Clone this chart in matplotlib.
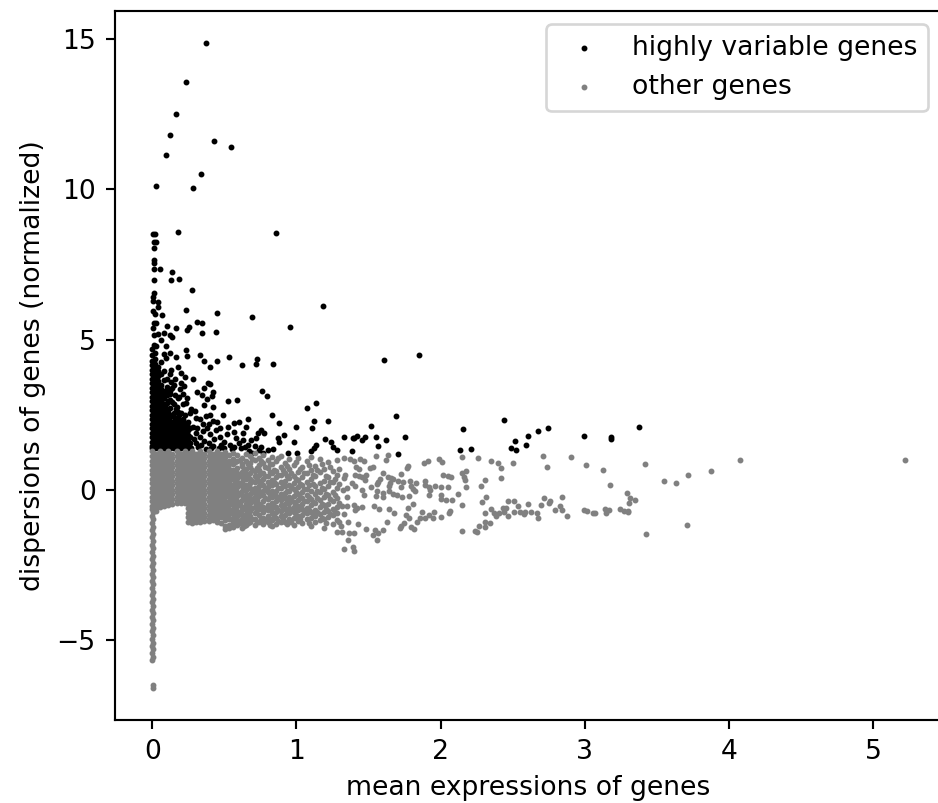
import matplotlib
matplotlib.use("Agg")
import matplotlib.pyplot as plt

# (mean, normalized dispersion)
hvg_top = [(.375,14.87),(.236,13.56),(.162,12.5),(.122,11.8),(.43,11.6),(.545,11.4),(.097,11.13),(.337,10.5),(.028,10.1),(.282,10.03),
 (.178,8.59),(.858,8.55),(.002,8.5),(.02,8.5),(.01,8.25),(.025,8.25),(.012,8.05),(.01,7.64)]
hvg_mid = [(.01,7.56),(.014,7.34),(.053,7.35),(.134,7.24),(.185,7.02),(.131,7.0),(.01,7.0),(.275,6.64),(.01,6.56),(.005,6.43),(.003,6.3),(.037,6.24),(.037,6.07),
 (.236,5.99),(.446,5.9),(.694,5.75),(1.186,6.12),(.003,5.96),(.02,5.85),(.07,5.83),(.31,5.6),(.347,5.54),(.104,5.45),(.162,5.4),(.257,5.43),(.24,5.32),(.345,5.21),(.444,5.27),(.957,5.43),
 (.01,5.55),(.025,5.55),(.005,5.38),(.037,5.19),(.01,5.15),(.08,5.21),(.124,5.15),(.135,5.08),(.06,5.0),(.095,4.78),(.01,4.82),(.025,4.79),(.236,4.64),(.24,4.44),(.125,4.56),(.163,4.42),(.078,4.52),(.095,4.38),
 (.33,4.5),(.356,4.3),(.4,4.1),(.45,4.3),(.53,4.41),(.625,4.16),(.725,4.36),(.72,4.2),(.84,4.2),(.176,4.08),(.13,3.99),(.2,3.88),(.23,3.75),(.28,3.68),
 (.384,3.57),(.403,3.53),(.36,3.4),(.42,3.27),(.31,3.25),(.345,3.16),(.413,3.14),(.377,3.03),(.763,3.3),(.793,3.14),(.523,2.96),(.585,2.98),(.359,2.83),(.418,2.75),(1.075,2.73),(1.137,2.9),
 (.298,2.62),(.49,2.5),(.833,2.5),(.666,2.37),(.879,2.23),(1.119,2.28),(1.218,2.28),(.999,2.1),(1.109,2.05),
 (.2,3.55),(.22,3.45),(.13,3.6),(.16,3.7),(.14,3.4),(.19,3.35),(.21,3.2),(.12,3.2),(.16,3.15),(.185,3.1),(.24,3.05),(.235,2.9),(.21,2.85),(.17,2.75),(.27,2.7),(.26,2.55),(.3,2.4),(.33,2.35),(.37,2.45),(.4,2.5),(.35,2.2),(.39,2.2),(.42,2.3),(.45,2.25),(.47,2.05),(.44,2.0),(.38,2.05)]
hvg_low = [(.522,2.11),(.569,2.22),(.603,2.27),(.65,2.11),(.569,1.92),(.626,1.885),(.73,1.907),(.777,1.885),(.754,1.996),(.684,1.66),(.719,1.72),(.626,1.66),(.661,1.5),(.58,1.72),(.569,1.44),(.615,1.39),(.691,1.22),(.754,1.44),(.77,1.24),(.8,1.33),(.834,1.35),(.911,1.83),(.869,1.72),(.881,1.61),(.985,1.61),(.939,1.24),(1.003,1.24),(1.135,1.5),(1.123,1.39),(1.1,1.28),(1.2,1.7),(1.239,1.61),(1.25,1.44),(1.28,1.33),(1.332,1.75),(1.389,1.72),(1.382,1.31),
 (.3,1.9),(.33,1.75),(.36,1.62),(.4,1.85),(.43,1.7),(.47,1.75),(.5,1.6),(.52,1.85),(.32,1.42),(.37,1.35),(.42,1.45),(.46,1.38),(.5,1.4),(.54,1.5),(.55,1.35),(.28,2.1),(.3,1.55),(.35,1.95),
 (.27,1.4),(.29,1.68),(.31,2.05),(.34,1.5),(.39,1.55),(.41,1.38),(.48,1.5),(.6,1.55),(.64,1.42),(.67,1.3),(.71,1.45),(.74,1.32),
 (1.609,4.31),(1.847,4.48),(1.69,2.46),(1.519,2.13),(1.396,1.72),(1.419,1.79),(1.452,1.67),(1.475,1.75),(1.549,1.75),(1.62,1.65),(1.75,1.75),(1.563,1.45),(1.702,1.21),(2.131,1.33),(2.212,1.35),(2.154,2.02),(2.441,2.33),(2.677,1.97),(2.747,2.07),(2.603,1.81),(2.513,1.62),(2.488,1.39),(2.52,1.34),(2.589,1.5),(2.992,1.8),(3.181,1.75),(3.181,1.7),(3.373,2.08)]

hvg_col_x = [0.0,.02,.04,.06,.08,.1,.125,.15,.175,.2,.225,.25]
hvg_col_y = [
 [4.7,4.5,4.3,4.15,4.0,3.85,3.7,3.55,3.4,3.25,3.1,2.95,2.8,2.65,2.5,2.35,2.2,2.05,1.9,1.75,1.6,1.45,1.38],
 [4.55,4.35,4.2,4.05,3.9,3.75,3.6,3.45,3.3,3.15,3.0,2.85,2.7,2.55,2.4,2.25,2.1,1.95,1.8,1.65,1.5,1.38],
 [4.1,3.95,3.8,3.62,3.48,3.3,3.18,3.0,2.88,2.72,2.58,2.42,2.28,2.12,1.98,1.82,1.68,1.52,1.38],
 [4.25,3.85,3.5,3.35,3.12,2.95,2.8,2.62,2.45,2.32,2.18,2.02,1.88,1.72,1.58,1.42],
 [3.95,3.65,3.25,3.05,2.75,2.6,2.4,2.25,2.1,1.95,1.8,1.65,1.5,1.38],
 [3.7,3.42,3.15,2.9,2.68,2.5,2.35,2.18,2.02,1.88,1.72,1.58,1.42],
 [3.85,3.3,3.0,2.72,2.45,2.3,2.15,2.0,1.85,1.7,1.55,1.4],
 [3.5,2.85,2.55,2.42,2.25,2.1,1.95,1.8,1.65,1.5,1.38],
 [3.05,2.6,2.35,2.18,2.02,1.88,1.72,1.58,1.42],
 [2.55,2.3,2.12,1.95,1.8,1.65,1.5,1.38],
 [2.48,2.22,2.05,1.88,1.72,1.58,1.42],
 [2.25,2.0,1.82,1.62,1.48,1.38]]

hvg_fill_x = [.03,.05,.07,.09,.112,.138,.162,.188,.212,.238,.265]
hvg_fill_y = [
 [3.55,3.22,2.92,2.65,2.35,2.05,1.75,1.45],
 [3.4,3.05,2.72,2.38,2.05,1.75,1.45],
 [3.2,2.88,2.55,2.25,1.95,1.65,1.4],
 [3.3,2.82,2.5,2.18,1.88,1.58,1.4],
 [2.95,2.6,2.28,1.98,1.68,1.45],
 [2.92,2.5,2.2,1.9,1.62,1.42],
 [2.68,2.3,2.02,1.75,1.48],
 [2.48,2.1,1.8,1.55,1.4],
 [2.35,2.0,1.72,1.48],
 [2.15,1.95,1.72,1.5,1.4],
 [2.05,1.75,1.55,1.4]]

other_strip_x = [.0,.004,.0,.004,.0,.004,.0,.004,.0,.004,.0,.004,.0,.004,.0,.004,.0,.004,.0,.004,.0,.004,.0,.004,.0,.004,.0,.004,.0,.004,.0,.004,.0,.004,.0,.004,.0,.004,.0,.004,.0,.004,.0,.002,.002]
other_strip_y = [-.62,-.74,-.86,-.98,-1.1,-1.22,-1.34,-1.46,-1.58,-1.7,-1.82,-1.94,-2.06,-2.18,-2.3,-2.42,-2.54,-2.66,-2.78,-2.9,-3.02,-3.14,-3.26,-3.38,-3.5,-3.62,-3.74,-3.86,-3.98,-4.1,-4.22,-4.34,-4.46,-4.58,-4.7,-4.82,-4.95,-5.08,-5.2,-5.3,-5.42,-5.55,-5.66,-6.47,-6.58]

other_col_x = [0.0,.028,.056,.084,.112,.14,.168,.196,.224,.25,.278,.306,.334,.362,.39,.418,.446,.474,.502,.53]
other_col_y = [
 [1.28,1.13,.98,.83,.68,.53,.38,.23,.08,-.07,-.22,-.37,-.52],
 [1.2,1.05,.9,.75,.6,.45,.3,.15,0,-.15,-.3,-.45,-.6,-.7],
 [1.28,1.13,.98,.83,.68,.53,.38,.23,.08,-.07,-.22,-.37,-.52,-.58],
 [1.2,1.05,.9,.75,.6,.45,.3,.15,0,-.15,-.3,-.45,-.54],
 [1.28,1.13,.98,.83,.68,.53,.38,.23,.08,-.07,-.22,-.37,-.5],
 [1.2,1.05,.9,.75,.6,.45,.3,.15,0,-.15,-.3,-.45],
 [1.28,1.13,.98,.83,.68,.53,.38,.23,.08,-.07,-.22,-.37,-.42],
 [1.2,1.05,.9,.75,.6,.45,.3,.15,0,-.15,-.3,-.42],
 [1.28,1.13,.98,.83,.68,.53,.38,.23,.08,-.07,-.22,-.37,-.42],
 [1.2,1.05,.9,.75,.6,.45,.3,.15,0,-.15,-.3,-.45,-.6,-.75,-.9,-1.05],
 [1.28,1.13,.98,.83,.68,.53,.38,.23,.08,-.07,-.22,-.37,-.52,-.67,-.82,-.97,-1.1],
 [1.2,1.05,.9,.75,.6,.45,.3,.15,0,-.15,-.3,-.45,-.6,-.75,-.9,-1.05],
 [1.28,1.13,.98,.83,.68,.53,.38,.23,.08,-.07,-.22,-.37,-.52,-.67,-.82,-.97,-1.08],
 [1.2,1.05,.9,.75,.6,.45,.3,.15,0,-.15,-.3,-.45,-.6,-.75,-.9,-1.03],
 [1.28,1.13,.98,.83,.68,.53,.38,.23,.08,-.07,-.22,-.37,-.52,-.67,-.82,-.97,-1.02],
 [1.2,1.05,.9,.75,.6,.45,.3,.15,0,-.15,-.3,-.45,-.6,-.75,-.9,-1.0],
 [1.28,1.13,.98,.83,.68,.53,.38,.23,.08,-.07,-.22,-.37,-.52,-.67,-.82,-.97,-1.05],
 [1.2,1.05,.9,.75,.6,.45,.3,.15,0,-.15,-.3,-.45,-.6,-.75,-.9,-1.1],
 [1.25,1.1,.95,.8,.65,.5,.35,.2,.05,-.1,-.25,-.4,-.55,-.7,-.85,-1.0,-1.2,-1.3],
 [1.15,.98,.85,.7,.55,.4,.25,.1,-.05,-.2,-.35,-.5,-.65,-.8,-.95,-1.15,-1.28]]

other_mid_x = [.56,.59,.62,.65,.68,.71,.74,.77,.8,.83,.86,.89,.92,.95,.98,1.01,1.04,1.07,1.1,1.13,1.16,1.19,1.22,1.25,1.28]
other_mid_y = [
 [1.22,1.02,.85,.66,.5,.35,.18,.02,-.14,-.3,-.46,-.62,-.78,-.92,-1.08,-1.22],
 [1.15,.95,.72,.58,.4,.26,.1,-.06,-.2,-.38,-.52,-.7,-.86,-1.0,-1.15],
 [1.08,.88,.8,.6,.44,.28,.12,-.03,-.18,-.34,-.55,-.68,-.82,-.98,-1.12,-1.28],
 [1.2,.98,.7,.52,.36,.16,.0,-.16,-.32,-.48,-.62,-.8,-1.02,-1.18],
 [1.12,.9,.75,.55,.38,.22,.05,-.12,-.28,-.44,-.7,-.88,-1.08],
 [1.22,1.0,.62,.46,.25,.08,-.1,-.24,-.4,-.58,-.76,-.96,-1.15],
 [1.05,.82,.68,.5,.3,.14,-.05,-.2,-.46,-.62,-.84,-1.05],
 [1.18,.9,.58,.36,.18,-.02,-.18,-.38,-.56,-.72,-.92,-1.12],
 [1.0,.72,.48,.28,.1,-.08,-.3,-.5,-.66,-.86,-1.06],
 [1.1,.85,.55,.34,.15,-.05,-.22,-.44,-.6,-.78,-1.0,-1.2],
 [.95,.62,.42,.2,-.02,-.2,-.36,-.56,-.74,-.94,-1.12],
 [1.12,.78,.5,.26,.06,-.14,-.32,-.5,-.7,-.88,-1.05],
 [.9,.58,.3,.12,-.1,-.28,-.46,-.64,-.84,-1.08],
 [1.02,.7,.4,.18,-.04,-.24,-.42,-.6,-.78,-.98],
 [.82,.48,.24,.02,-.2,-.4,-.58,-.72,-.92,-1.15],
 [1.05,.6,.34,.1,-.12,-.34,-.52,-.68,-.88,-1.04],
 [.75,.42,.16,-.06,-.28,-.46,-.64,-.82,-1.1],
 [.95,.55,.28,.04,-.16,-.38,-.6,-.78,-.98],
 [1.1,.66,.36,-.02,-.3,-.5,-.72,-.92,-1.2],
 [.8,.48,.12,-.14,-.42,-.66,-.86,-1.06],
 [1.02,.6,.22,-.08,-.34,-.58,-.8,-1.0],
 [.7,.3,.02,-.24,-.5,-.74,-.96,-1.28],
 [.92,.44,.14,-.18,-.46,-.7,-.9],
 [.62,.25,-.06,-.36,-.62,-.84,-1.12],
 [1.0,.5,.08,-.26,-.56,-.78,-1.0,-1.4]]

other_gap_x = [.575,.605,.635,.665,.695,.725,.755,.785,.815,.845,.875,.905,.935,.965,.995,1.025,1.055,1.085,1.115,1.145,1.175,1.205,1.235,1.265,1.295]
other_gap_y = [
 [.92,.58,.26,-.06,-.4,-.7,-1.0],
 [1.0,.5,.2,-.12,-.44,-.78,-1.08],
 [.7,.36,.05,-.26,-.6,-.9,-1.2],
 [.85,.44,.08,-.24,-.54,-.92,-1.1],
 [1.02,.65,.3,-.03,-.35,-.6,-.98],
 [.72,.38,.0,-.32,-.68,-1.05],
 [.95,.58,.22,-.12,-.54,-.95],
 [.78,.46,.08,-.28,-.64,-1.0],
 [.88,.6,.2,-.18,-.58,-.95,-1.15],
 [.68,.25,-.12,-.52,-.88],
 [1.05,.5,.08,-.28,-.65,-1.02],
 [.65,.15,-.24,-.6,-.98],
 [.8,.45,-.02,-.38,-.74,-1.12],
 [.55,.1,-.32,-.68,-1.05],
 [.92,.35,-.08,-.5,-.84],
 [.7,.2,-.22,-.6,-.95],
 [.58,.02,-.38,-.72],
 [.82,.15,-.25,-.68,-1.1],
 [.5,.2,-.4,-.82],
 [.65,-.02,-.28,-.74],
 [.85,.08,-.46,-.92],
 [.45,-.12,-.62,-1.1],
 [.75,.25,-.3,-.8],
 [.38,-.16,-.72],
 [.7,.2,-.42,-1.05]]

other_right = [(1.331,1.075),(1.369,1.03),(1.396,.964),(1.438,1.03),(1.466,.975),(1.412,.776),(1.435,.71),(1.512,.73),(1.53,.765),(1.338,.5),(1.403,.51),(1.431,.477),(1.484,.51),(1.454,.42),(1.477,.33),(1.332,.39),(1.385,.22),(1.408,.144),(1.35,.055),(1.322,0),(1.454,0),(1.466,-.167),(1.35,-.22),(1.315,-.52),(1.35,-.54),(1.401,-.5),(1.419,-.61),(1.454,-.58),(1.327,-.81),(1.408,-.665),
 (1.553,1.14),(1.632,1.16),(1.623,1.01),(1.775,.8),(1.768,.73),(1.597,.56),(1.727,.52),(1.634,.44),(1.657,.41),(1.669,.35),(1.701,.29),(1.65,.22),(1.641,.13),(1.738,.25),(1.722,.1),(1.576,.35),(1.565,.28),(1.558,.19),
 (1.789,.29),(1.826,.22),(1.794,.14),(1.808,.02),(1.822,-.02),(1.891,.29),(1.888,.155),(1.921,.11),(1.928,0),(1.96,.144),(2.002,.09),(2.048,.1),(1.886,.91),(1.912,.975),(1.99,1.03),(2.011,.93),(2.013,.51),(2.05,.465),(2.071,.43),
 (2.147,1.086),(2.145,.565),(2.173,.62),(2.164,.44),(2.166,.32),(2.178,.1),(2.309,.34),(2.277,.14),(2.258,1.05),(2.346,.95),(2.395,.9),(2.416,.72),(2.499,.886),(2.418,.41),(2.709,1.13),(2.737,.75),(2.906,1.085),(3.007,.82),(3.125,.675),(3.171,.166),
 (1.52,.1),(1.56,-.05),(1.6,-.1),(1.55,-.2),(1.6,-.25),(1.64,-.02),(1.67,-.12),(1.7,-.18),(1.73,-.22),(1.78,-.2),(1.54,-.52),
 (1.574,-.62),(1.643,-.62),(1.674,-.78),(1.63,-1.06),(1.761,-.82),(1.778,-.94),(1.743,-1.09),(1.727,-1.2),(1.715,-1.28),(1.796,-1.22),(1.812,-1.31),(1.833,-1.06),(1.858,-.92),(1.872,-.73),(1.891,-.93),(1.921,-.82),(1.953,-.73),(1.946,-.92),(2.0,-.89),(2.055,-.78),(2.064,-.69),(1.771,-.59),(1.805,-.46),
 (2.0,-.18),(2.002,-.31),(2.034,-.32),(2.076,-.34),(2.117,-.12),(1.919,-.17),(2.147,-.5),(2.314,-.24),(2.288,-.41),(2.309,-.75),(2.351,-.63),
 (2.367,-.754),(2.383,-.865),(2.402,-.776),(2.429,-.588),(2.436,-.732),(2.453,-.588),(2.467,-.377),(2.506,-.366),(2.464,-.865),(2.506,-.743),(2.536,-.533),(2.552,-.743),(2.582,-.732),(2.58,-.8),(2.626,-.743),(2.605,-.466),(2.668,-.776),(2.672,-.94),(2.693,-.5),(2.749,-.444),(2.76,-.355),(2.716,-.277),(2.792,-.676),(2.827,-.544),(2.841,-.665),(2.878,-.865),(2.841,-.233),(2.991,-.676),(3.014,-.7),(3.054,-.754),(3.07,-.765),(3.137,-.632),(3.146,-.776),(3.169,-.676),(3.243,-.632),(3.271,-.71),(3.299,-.71),(3.292,-.11),(3.31,-.266),(3.345,-.33),(3.303,-.42),(3.296,-.72),
 (2.147,-1.353),(2.24,-1.353),(2.252,-1.4),(2.268,-1.21),(2.305,-1.076),(2.305,-1.24),(2.344,-1.1),(1.359,-1.66),(1.332,-1.97),(1.392,-1.91),(1.401,-2.03),(1.56,-1.67),(1.528,-1.5),(1.544,-1.33),(1.563,-1.42),(1.602,-1.34),(1.484,-1.29),(1.429,-1.13),(1.355,-1.08),(1.401,-1.42),(1.362,-1.43),(1.315,-1.39),(1.31,-1.19),
 (3.417,.864),(3.546,.288),(3.634,.243),(3.717,.487),(3.872,.631),(4.078,.986),(5.22,.986),(3.706,-1.175),(3.424,-1.46)]

hvg_x, hvg_y = [], []
for group in (hvg_top, hvg_mid, hvg_low):
    for a, b in group:
        hvg_x.append(a); hvg_y.append(b)
for xs_, ys_ in ((hvg_col_x, hvg_col_y), (hvg_fill_x, hvg_fill_y)):
    for cx, ys in zip(xs_, ys_):
        for b in ys:
            hvg_x.append(cx); hvg_y.append(b)

other_x, other_y = list(other_strip_x), list(other_strip_y)
for xs_, ys_ in ((other_col_x, other_col_y), (other_mid_x, other_mid_y), (other_gap_x, other_gap_y)):
    for cx, ys in zip(xs_, ys_):
        for b in ys:
            other_x.append(cx); other_y.append(b)
for a, b in other_right:
    other_x.append(a); other_y.append(b)

W, H = 938, 803
DPI = 192
fig = plt.figure(figsize=(W/DPI, H/DPI), dpi=DPI)
ax = fig.add_axes([114.5/W, 1-720/H, (941-114.5)/W, (720-11)/H])
ax.scatter(hvg_x, hvg_y, s=1.45, c="black", linewidths=1, label="highly variable genes")
ax.scatter(other_x, other_y, s=1.45, c="gray", linewidths=1, label="other genes")
ax.set_xlim(-.262, 5.47)
ax.set_ylim(-7.65, 15.93)
ax.set_xlabel("mean expressions of genes")
ax.set_ylabel("dispersions of genes (normalized)")
ax.legend(loc="upper right")
fig.savefig("out.png", dpi=DPI)
